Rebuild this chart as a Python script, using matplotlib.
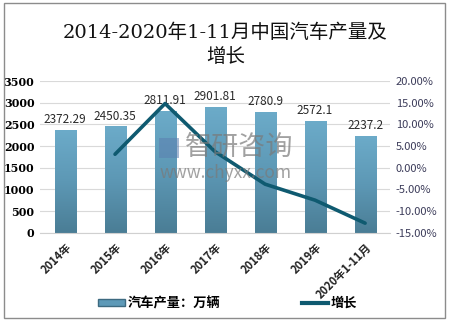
import matplotlib
matplotlib.use("Agg")
import matplotlib.pyplot as plt
import numpy as np
from matplotlib.patches import Rectangle
from matplotlib.lines import Line2D
from matplotlib.colors import LinearSegmentedColormap

plt.rcParams['font.family'] = ['Noto Sans CJK SC', 'DejaVu Sans']

years = ['2014年', '2015年', '2016年', '2017年', '2018年', '2019年', '2020年1-11月']
output = [2372.29, 2450.35, 2811.91, 2901.81, 2780.9, 2572.1, 2237.2]
growth_years = years[1:]
growth = [3.1, 14.8, 3.7, -3.8, -7.5, -12.8]

bar_cmap = LinearSegmentedColormap.from_list('bar', ['#4a7d95', '#5d98b5', '#6cabc9'])
line_color = '#0f5a70'

fig = plt.figure(figsize=(4.51, 3.23), dpi=100)
ax = fig.add_axes([0.0887, 0.2796, 0.7763, 0.4696])

x = np.arange(len(years))
bars = ax.bar(x, output, width=0.42, color='#5e9ab8', edgecolor='#3d6a80', linewidth=0.6, zorder=2)

# vertical gradient inside each bar
grad = np.linspace(0, 1, 256).reshape(-1, 1)
for b in bars:
    x0, y0 = b.get_x(), b.get_y()
    w, h = b.get_width(), b.get_height()
    im = ax.imshow(grad, cmap=bar_cmap, aspect='auto', origin='lower',
                   extent=[x0, x0 + w, y0, y0 + h], zorder=2.1)
    im.set_clip_path(b)

for xi, v in zip(x, output):
    ax.text(xi, v + 90, f'{v:g}', ha='center', va='bottom', fontsize=8.5,
            color='#2a2a2a', zorder=4)

ax.set_xlim(-0.5, len(years) - 0.5)
ax.set_ylim(0, 3500)
ax.set_yticks(np.arange(0, 3501, 500))
ax.set_xticks(x)
ax.set_xticklabels(years, rotation=45, ha='right', rotation_mode='anchor',
                   fontsize=8, fontweight='bold', color='#222222')
for lab in ax.get_yticklabels():
    lab.set_fontsize(8)
    lab.set_fontweight('bold')
    lab.set_family(['DejaVu Serif'])
ax.tick_params(axis='both', length=0, pad=4)
ax.tick_params(axis='x', pad=6)
ax.grid(axis='y', color='#d9d9d9', linewidth=0.8, zorder=0)
for s in ['top', 'right', 'left']:
    ax.spines[s].set_visible(False)
ax.spines['bottom'].set_color('#d0d0d0')

ax2 = ax.twinx()
ax2.plot(np.arange(1, len(years)), growth, color=line_color, linewidth=2.6,
         solid_capstyle='round', solid_joinstyle='round', zorder=5)
ax2.set_ylim(-15, 20)
ax2.set_yticks(np.arange(-15, 21, 5))
ax2.set_yticklabels([f'{t:.2f}%' for t in np.arange(-15, 21, 5)], fontsize=8,
                    color='#3c3c5a')
ax2.tick_params(axis='y', length=0, pad=4)
for s in ax2.spines.values():
    s.set_visible(False)

# watermark
fig.add_artist(Rectangle((159 / 451, 1 - 158 / 323), 20 / 451, 20 / 323,
                         transform=fig.transFigure, facecolor='#5b7fb0',
                         alpha=0.55, zorder=10))
fig.text(0.53, 0.545, '智研咨询', fontsize=19.5, color='#7a7a7a', alpha=0.7,
         ha='center', va='center', zorder=10)
fig.text(0.50, 0.464, 'www.chyxx.com', fontsize=12.5, color='#7a7a7a', alpha=0.7,
         ha='center', va='center', zorder=10)

title_font = ['DejaVu Serif', 'Noto Sans CJK SC']
fig.text(0.5, 0.90, '2014-2020年1-11月中国汽车产量及', ha='center', va='center',
         fontsize=14, color='#111111', family=title_font)
fig.text(0.5, 0.823, '增长', ha='center', va='center', fontsize=14,
         color='#111111', family=title_font)

handles = [Rectangle((0, 0), 1, 1, facecolor='#5e9ab8', edgecolor='#3d6a80'),
           Line2D([0], [0], color=line_color, linewidth=3)]
fig.legend(handles, ['汽车产量：万辆', '增长'], loc='center', bbox_to_anchor=(0.505, 0.062),
           ncol=2, frameon=False, handlelength=2.0, handleheight=0.5, columnspacing=6.2,
           prop={'size': 9.5, 'weight': 'bold'}, handletextpad=0.2)

fig.patches.append(Rectangle((4 / 451, 5 / 323), 441 / 451, 315 / 323,
                             transform=fig.transFigure, fill=False,
                             edgecolor='#8c8c8c', linewidth=1))

fig.savefig('out.png', dpi=100)
